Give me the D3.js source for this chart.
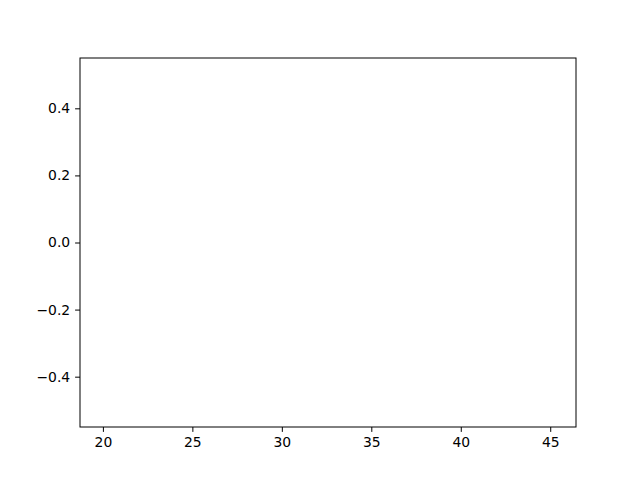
<!DOCTYPE html>
<html>
<head>
<meta charset="utf-8">
<script src="https://cdn.jsdelivr.net/npm/d3@7"></script>
<style>
  body { margin: 0; background: #fff; }
  svg { display: block; }
</style>
</head>
<body>
<svg id="chart"></svg>
<script>
// axis limits and ticks (the plot itself is empty)
let xDomain = [18.72, 46.44]
let yDomain = [-0.55, 0.55]
let xTicks = [20, 25, 30, 35, 40, 45]
let yTicks = [-0.4, -0.2, 0.0, 0.2, 0.4]

let width = 640, height = 480
let margins = {top: 58, right: 64, bottom: 53, left: 80}
let w = width - margins.left - margins.right
let h = height - margins.top - margins.bottom

let svg = d3.select('#chart')
    .attr('width', width)
    .attr('height', height)

let x = d3.scaleLinear().domain(xDomain).range([0, w])
let y = d3.scaleLinear().domain(yDomain).range([h, 0])

let chart = svg.append('g')
    .attr('transform', `translate(${margins.left},${margins.top})`)

let fmtY = d => d3.format('.1f')(d).replace('-', '\u2212')

// X AXIS
chart.append('g')
    .attr('transform', `translate(0,${h})`)
    .call(d3.axisBottom(x).tickValues(xTicks).tickSize(4.9).tickPadding(4.9).tickSizeOuter(0))
    .call(g => g.select('.domain').remove())
    .attr('font-family', 'DejaVu Sans')
    .attr('font-size', 13.9)
    .attr('color', '#000')

// Y AXIS
chart.append('g')
    .call(d3.axisLeft(y).tickValues(yTicks).tickFormat(fmtY).tickSize(4.9).tickPadding(4.9).tickSizeOuter(0))
    .call(g => g.select('.domain').remove())
    .attr('font-family', 'DejaVu Sans')
    .attr('font-size', 13.9)
    .attr('color', '#000')

// FRAME
chart.append('rect')
    .attr('x', 0)
    .attr('y', 0)
    .attr('width', w)
    .attr('height', h)
    .attr('fill', 'none')
    .attr('stroke', '#000')
    .attr('stroke-width', 1)
</script>
</body>
</html>
